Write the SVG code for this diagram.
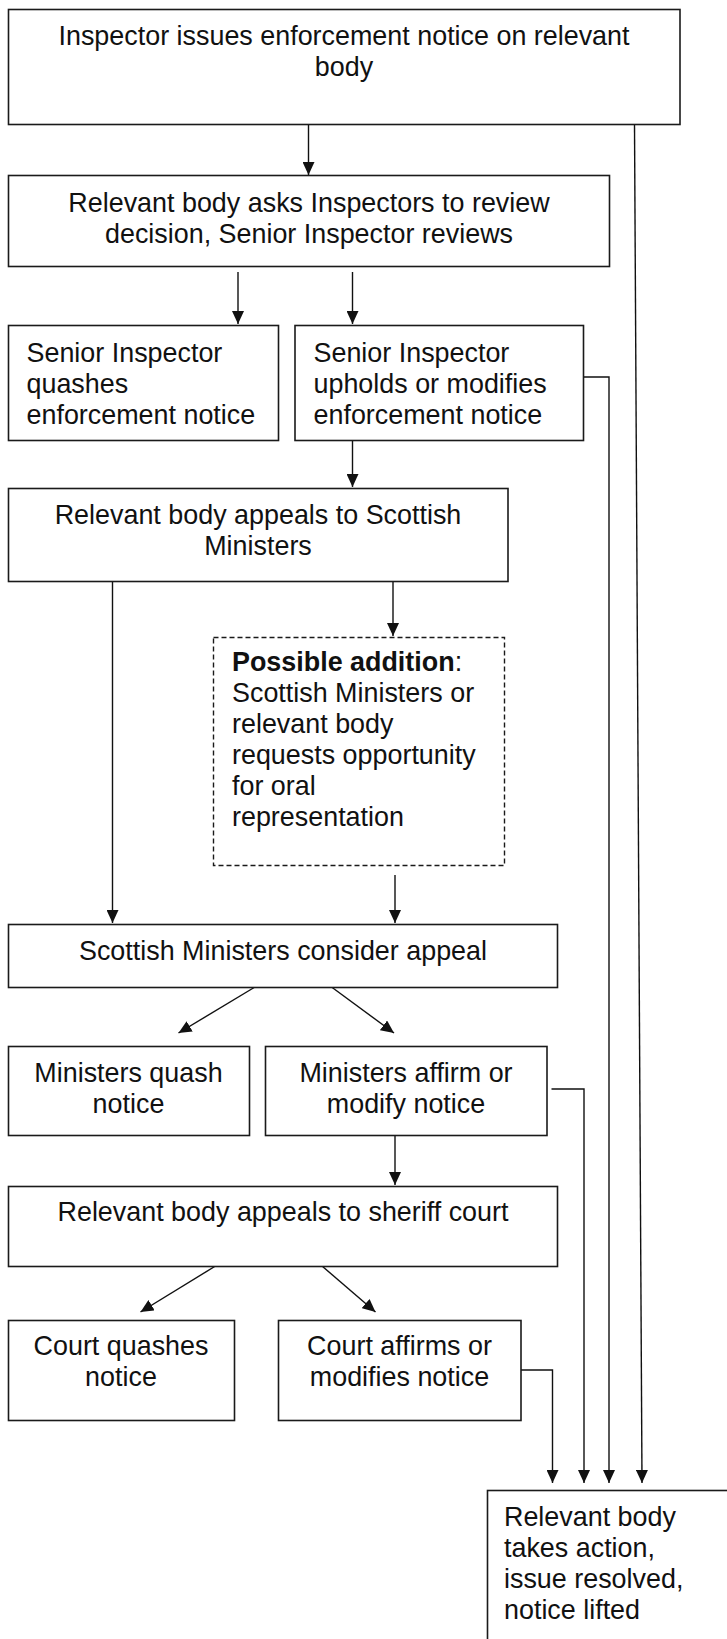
<svg xmlns="http://www.w3.org/2000/svg" width="727" height="1639" viewBox="0 0 727 1639">
<defs>
<style>
.box{fill:#fff;stroke:#1a1a1a;stroke-width:1.6}
.dash{fill:#fff;stroke:#1a1a1a;stroke-width:1.4;stroke-dasharray:5 3}
.t{font-family:"Liberation Sans",Arial,sans-serif;font-size:26.9px;fill:#111}
.c{text-anchor:middle}
.b{font-weight:bold}
.ln{fill:none;stroke:#111;stroke-width:1.4;marker-end:url(#ah)}
</style>
<marker id="ah" viewBox="0 0 13 12" refX="13" refY="6" markerWidth="13" markerHeight="12" markerUnits="userSpaceOnUse" orient="auto">
<path d="M0,0 L13,6 L0,12 z" fill="#111"/>
</marker>
</defs>
<rect width="727" height="1639" fill="#fff"/>
<g id="connectors">
<path class="ln" d="M308.5,124 V175"/>
<path class="ln" d="M238,272 V324"/>
<path class="ln" d="M352.5,272 V324"/>
<path class="ln" d="M352.5,440 V487"/>
<path class="ln" d="M112.5,581 V923"/>
<path class="ln" d="M393,581 V636"/>
<path class="ln" d="M395,875 V923"/>
<path class="ln" d="M255,987 L178.5,1033"/>
<path class="ln" d="M331.5,987 L394,1033"/>
<path class="ln" d="M395,1136 V1185"/>
<path class="ln" d="M215.5,1266 L140.5,1312"/>
<path class="ln" d="M322,1266 L375.5,1312"/>
<path class="ln" d="M521,1370 H552.5 V1483"/>
<path class="ln" d="M551.5,1089 H584 V1483"/>
<path class="ln" d="M584,377 H609 V1483"/>
<path class="ln" d="M634.5,124 L642,1483"/>
</g>
<g id="n1"><rect class="box" x="8.5" y="9.5" width="671.5" height="115"/>
<text class="t c" x="344" y="45">Inspector issues enforcement notice on relevant</text>
<text class="t c" x="344" y="76">body</text></g>
<g id="n2"><rect class="box" x="8.5" y="175.5" width="601" height="91"/>
<text class="t c" x="309" y="212">Relevant body asks Inspectors to review</text>
<text class="t c" x="309" y="243">decision, Senior Inspector reviews</text></g>
<g id="n3"><rect class="box" x="8.5" y="325.5" width="270" height="115"/>
<text class="t" x="26.5" y="362">Senior Inspector</text>
<text class="t" x="26.5" y="393">quashes</text>
<text class="t" x="26.5" y="424">enforcement notice</text></g>
<g id="n4"><rect class="box" x="295" y="325.5" width="288.5" height="115"/>
<text class="t" x="313.5" y="362">Senior Inspector</text>
<text class="t" x="313.5" y="393">upholds or modifies</text>
<text class="t" x="313.5" y="424">enforcement notice</text></g>
<g id="n5"><rect class="box" x="8.5" y="488.5" width="499.5" height="93"/>
<text class="t c" x="258" y="524">Relevant body appeals to Scottish</text>
<text class="t c" x="258" y="555">Ministers</text></g>
<g id="n6"><rect class="dash" x="213.5" y="637.5" width="291" height="228"/>
<text class="t" x="232" y="671"><tspan class="b">Possible addition</tspan>:</text>
<text class="t" x="232" y="702">Scottish Ministers or</text>
<text class="t" x="232" y="733">relevant body</text>
<text class="t" x="232" y="764">requests opportunity</text>
<text class="t" x="232" y="795">for oral</text>
<text class="t" x="232" y="826">representation</text></g>
<g id="n7"><rect class="box" x="8.5" y="924.5" width="549" height="63"/>
<text class="t c" x="283" y="960">Scottish Ministers consider appeal</text></g>
<g id="n8"><rect class="box" x="8.5" y="1046.5" width="241" height="89"/>
<text class="t c" x="128.5" y="1082">Ministers quash</text>
<text class="t c" x="128.5" y="1113">notice</text></g>
<g id="n9"><rect class="box" x="265.5" y="1046.5" width="281.5" height="89"/>
<text class="t c" x="406" y="1082">Ministers affirm or</text>
<text class="t c" x="406" y="1113">modify notice</text></g>
<g id="n10"><rect class="box" x="8.5" y="1186.5" width="549" height="80"/>
<text class="t c" x="283" y="1221">Relevant body appeals to sheriff court</text></g>
<g id="n11"><rect class="box" x="8.5" y="1320.5" width="226" height="100"/>
<text class="t c" x="121" y="1355">Court quashes</text>
<text class="t c" x="121" y="1386">notice</text></g>
<g id="n12"><rect class="box" x="278.5" y="1320.5" width="242.5" height="100"/>
<text class="t c" x="399.5" y="1355">Court affirms or</text>
<text class="t c" x="399.5" y="1386">modifies notice</text></g>
<g id="n13"><rect class="box" x="487.5" y="1490.5" width="260" height="200"/>
<text class="t" x="504" y="1526">Relevant body</text>
<text class="t" x="504" y="1557">takes action,</text>
<text class="t" x="504" y="1588">issue resolved,</text>
<text class="t" x="504" y="1619">notice lifted</text></g>
</svg>
